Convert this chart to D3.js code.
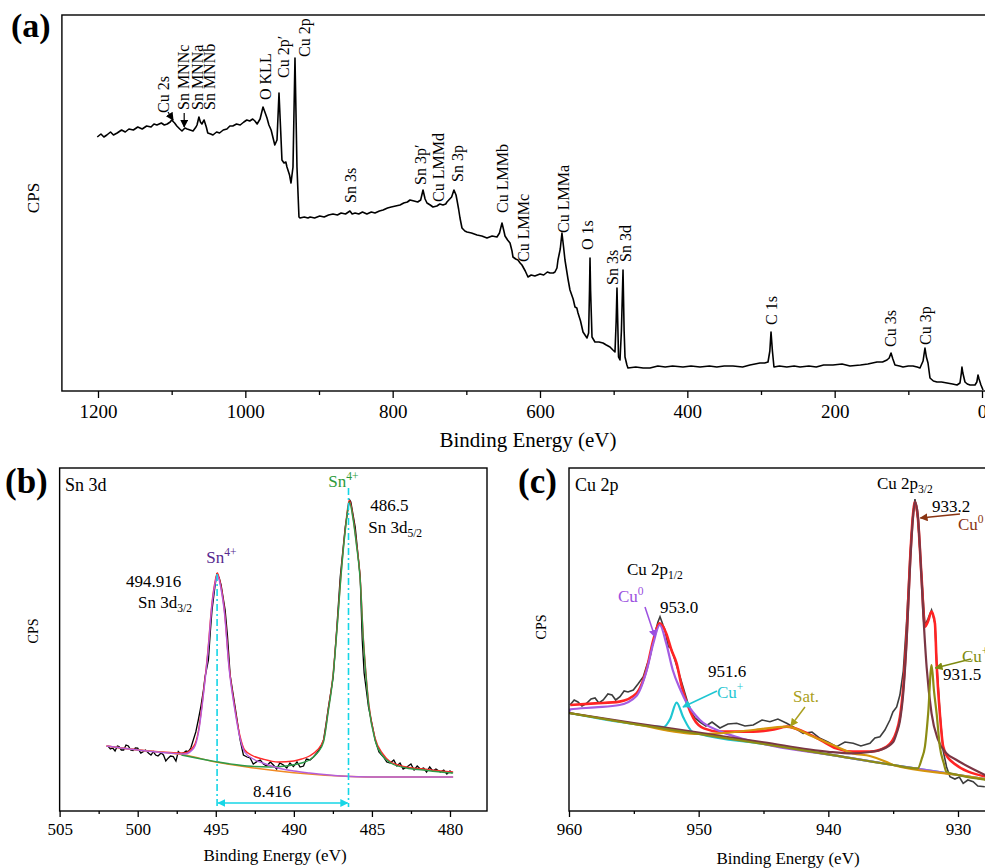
<!DOCTYPE html>
<html>
<head>
<meta charset="utf-8">
<script src="https://cdn.jsdelivr.net/npm/d3@7"></script>
<style>
body{margin:0;background:#fff;}
svg{display:block;font-family:"Liberation Serif","Times New Roman",serif;}
</style>
</head>
<body>
<svg id="fig" width="985" height="868"></svg>
<script>
// ---------- (a) survey spectrum: [binding energy eV, kCPS] ----------
var surveyData = [[1201,127],[1196,128.5],[1192,127],[1188,128],[1183,129.5],[1179,128],[1174,129],[1168,130.5],[1163,129.5],[1158,131],[1152,130.5],[1146,132],[1140,131],[1134,132.5],[1128,132],[1124,133.5],[1120,133],[1114,134],[1110,133],[1106,133.5],[1102,134.5],[1100,135.5],[1096,134],[1093,132.5],[1089,131],[1086,130],[1082,131.5],[1079,131],[1075,130.5],[1071,130],[1067,132],[1065.6,133],[1063,137],[1061,134.5],[1059,133.5],[1056,135.5],[1053,132],[1051,129],[1047,128.5],[1044,128],[1039,129.5],[1035,129],[1030,130.5],[1025,131],[1021,132.5],[1017,132.5],[1012,133.5],[1007,133],[1002,134.5],[998,135.5],[994,135],[990,136],[987,135],[984,133.5],[980,136],[976,142],[973,139],[970.6,136.5],[968,133],[965,130.5],[962,126],[960,123],[957,125.5],[954.3,149],[952,130],[950.3,115.5],[947.5,114],[945,114.5],[943.5,112],[940,108],[938,104],[935.3,112],[932.6,166.5],[929.9,112],[927.2,87],[925.8,86.5],[920,87],[915,86.5],[912,87],[906,86.5],[899,87.5],[893,87],[887,88],[881,88.5],[875,88],[870,89],[864,88.5],[858,90],[855,88.5],[851,89],[846,88.5],[841,89.5],[835,88.5],[829,89.5],[824,89],[818,90],[813,90.5],[807,91.5],[802,92],[796,92.5],[790,93],[785,94],[780,94.5],[776.5,95.5],[771,95],[766,94.5],[762,95.5],[758.8,100.5],[756,96],[753.4,94],[749,93],[745.3,92],[740,92.5],[736,93.5],[731.7,93],[728,93.5],[726.3,94.5],[720,97],[716.8,100.5],[714,98],[712.7,95.5],[710.5,91],[708.6,86.5],[705.9,81.5],[702,80],[699.1,79.5],[693,79],[685.5,78],[679,77.5],[672,76.5],[665,77.5],[658.4,77],[655,79],[651.6,84],[649,80],[647.5,77.5],[644,75.5],[640.7,74],[638,70],[636.7,67],[633,66],[629.9,65.5],[627,64],[624.5,63],[620,60],[616.3,57],[612,58],[607,57.5],[600,58.5],[595,58],[590,59.5],[586.4,59],[582,59],[579.7,59.5],[577,61.5],[575.6,65.5],[572.5,71],[570.2,79],[568,72],[566.1,65.5],[562,56],[559.3,50.5],[555,46],[552.5,42],[550,41.5],[548.4,39],[545,35],[541.6,29.5],[538,27.5],[536.2,26.5],[534,29],[532.8,50],[532.1,66.5],[531.3,50],[529.4,27],[525.4,24.5],[520,24.5],[514.5,24],[510,23],[505,22],[501,20.5],[498.2,19.5],[496.6,35],[495.5,51.5],[494.5,35],[493.4,17],[491.4,15.5],[489.5,30],[487.3,60.5],[485.8,30],[484.6,17],[482,13],[480.6,11.5],[470,12],[460,11.5],[450.7,11.5],[440,12.5],[430,12],[420,12.5],[405.9,12],[395,12.5],[382.8,12],[370,12.5],[360,12],[350,12.5],[338,12.5],[325,12],[315,13],[301.4,14],[295,14],[290.5,14.5],[288,20],[286.4,29.5],[284.5,20],[282.4,12],[275,12.5],[265,12],[255,12.5],[247,12],[235,12.5],[225,12],[215,13],[202.3,13],[190,13.5],[179.2,12.5],[165,13],[155,13.5],[142.5,14.5],[135,14.5],[129,15.5],[126,16.5],[123.5,19],[121,16],[118.1,13],[112,12.5],[107.2,12],[100,12.5],[93.7,12.5],[88,12],[84.2,11.5],[80,15],[77.4,21.5],[75.5,17],[73.3,14],[70.6,6.5],[66,5],[61.1,4.5],[55,4.5],[47.5,4],[40,3.5],[33.9,3],[29.9,4],[28,9],[27.2,12],[26,9],[23.1,4.5],[20,3.5],[16.3,3],[12,3],[9.5,3],[7,4.5],[5.4,8],[4,6],[1.4,3],[-1.4,0.5]];
// peak names, energy where the label stands, level of its foot
var surveyLabels = [["Cu 2s",1111.8,139],["Sn MNNc",1084.6,140.5],["Sn MNNa",1065.6,140.5],["Sn MNNb",1049.3,140.5],["O KLL",973.3,145.5],["Cu 2p\u2032",948.9,156.5],["Cu 2p",920.4,167],["Sn 3s",858,94],["Sn 3p\u2032",763,103],["Cu LMMd",738.5,94.5],["Sn 3p",712.7,104.5],["Cu LMMb",651.6,89],["Cu LMMc",623,64.5],["Cu LMMa",568.8,79],["O 1s",536.2,70.5],["Sn 3s",502.3,53],["Sn 3d",484.6,64.5],["C 1s",286.4,33],["Cu 3s",124.9,22],["Cu 3p",77.4,23]];
var surveyArrows = [[1105,139.5,1098,135.5],[1083,139,1083,132]];
var surveyMajor = [1200,1000,800,600,400,200,0];
var surveyMinor = [1100,900,700,500,300,100];

// ---------- (b) Sn 3d ----------
var sn3dData = [[501.9,33],[501.75,31.5],[501.6,32],[501.45,30.5],[501.3,33],[501.2,32.7],[501.05,31],[500.9,31],[500.75,33.5],[500.6,33],[500.45,31],[500.3,30.7],[500.15,32],[500,31.9],[499.8,29.5],[499.65,30.2],[499.5,31],[499.3,29.4],[499.15,28.5],[499,30.2],[498.85,28.5],[498.7,28],[498.5,29.5],[498.35,28.5],[498.2,25.5],[498.05,26.9],[497.9,28],[497.72,27.7],[497.55,25.5],[497.4,30.2],[497.25,29],[497.1,29.4],[496.9,30.5],[496.76,30.2],[496.6,32],[496.44,36],[496.28,40],[496.12,46],[495.95,53],[495.79,61],[495.69,67.5],[495.47,76],[495.35,90],[495.24,101],[495.04,113.5],[494.92,119.5],[494.85,118],[494.78,117],[494.66,113.5],[494.4,101],[494.25,88],[494.08,68.5],[493.76,52.5],[493.44,36],[493.3,31],[493.23,28.5],[493,27.5],[492.8,27],[492.6,24],[492.37,25.2],[492.15,26],[491.95,24],[491.75,23],[491.5,25],[491.31,23.5],[491.1,21.5],[490.9,24.5],[490.67,23.5],[490.45,22],[490.25,24.5],[490.03,22.7],[489.8,25],[489.6,22.5],[489.38,23],[489.2,26.5],[488.96,26],[488.75,27.5],[488.53,29.5],[488.3,32],[488.1,36],[487.94,44],[487.78,52.7],[487.48,67.5],[487.25,92],[487.03,117.5],[486.71,142.5],[486.5,153],[486.42,156],[486.35,155],[486.07,142.5],[485.75,117.5],[485.62,86],[485.5,69.5],[485.22,52.5],[484.79,36],[484.55,30],[484.26,27.5],[484.05,25],[483.83,24.5],[483.6,26],[483.4,23],[483.2,24.5],[483,21.5],[482.76,22.5],[482.5,24],[482.3,21],[482.1,23],[481.9,21.5],[481.69,22],[481.5,20],[481.3,22.5],[481.1,20.5],[480.9,21.5],[480.62,20],[480.4,21],[480.2,19],[480,20.5],[479.87,19.5]];
var sn3dBg = [[502,33],[500,31],[498,29.5],[497,28.5],[495,25],[493,22.5],[491,20.5],[489,19],[487,18],[485,17.5],[483,17.5],[479.8,17.5]];
var sn3d32Fit = [[502,33],[500,31],[498,29.5],[497,29],[496.4,32],[496.1,40],[495.8,58],[495.5,80],[495.25,103],[495.05,114],[494.9,118.5],[494.7,113],[494.45,100],[494.15,72],[493.8,52],[493.45,37],[493.15,30],[492.6,26.5],[492,24.5],[491,22],[490,20.5],[489,19.5],[487,18],[485,17.5],[483,17.5],[479.8,17.5]];
var sn3d52Fit = [[497.2,28.5],[495,25.2],[493,23],[491.5,22.5],[490.5,23],[489.5,24.5],[489,26],[488.5,29.5],[488.1,35],[487.8,50],[487.5,67],[487.2,95],[487,116],[486.7,141],[486.45,155],[486.2,146],[486,134],[485.75,116],[485.55,86],[485.4,70],[485.2,53],[484.8,36],[484.3,28],[483.8,24.5],[482.8,22],[481.7,21],[480.6,20],[479.8,19.5]];
var sn3dEnvelope = [[502,33],[497,29.5],[496.4,33],[496.1,41],[495.8,59],[495.5,81],[495.25,104],[495.05,115],[494.9,119.5],[494.7,114],[494.45,101],[494.15,73],[493.8,53],[493.45,38],[493.15,31],[492.6,28],[492,26.5],[491,25],[490,25.5],[489.5,26.5],[489,28],[488.5,31],[488.1,36],[487.8,51],[487.5,68],[487.2,96],[487,117],[486.7,142],[486.45,156],[486.2,147],[486,135],[485.75,117],[485.55,87],[485.4,71],[485.2,54],[484.8,37],[484.3,29],[483.8,25],[482.8,22.5],[481.7,21.5],[480.6,20.5],[479.8,20]];
var sn3dPeaks = [494.916, 486.5];
var sn3dMajor = [505,500,495,490,485,480];
var sn3dMinor = [502.5,497.5,492.5,487.5,482.5];

// ---------- (c) Cu 2p ----------
var cu2pData = [[959.92,53],[959.6,55.5],[959.31,54.5],[959,52.5],[958.64,53.85],[958.3,56],[957.99,56.5],[957.7,54],[957.36,55.5],[957,58.5],[956.68,58],[956.4,55.5],[956.07,57.15],[955.75,60],[955.45,59.5],[955.04,60.5],[954.68,63.5],[954.27,67.15],[953.99,73],[953.75,77.15],[953.37,88.85],[953.14,94.5],[952.98,97.15],[952.75,93],[952.6,90.5],[952.34,82.15],[952.14,81.5],[951.83,75.5],[951.44,67.15],[951.06,58.85],[950.67,50.5],[950.29,46.5],[949.9,44.5],[949.44,42.5],[948.97,44.5],[948.36,41.5],[947.74,43.5],[947.07,43.85],[946.43,42.5],[945.79,43],[945.12,45.5],[944.5,44.65],[943.89,46],[943.21,43.85],[942.58,41.5],[941.94,38.85],[941.26,39.5],[940.65,36.35],[940.03,34.5],[939.36,32.15],[938.72,34.5],[938.08,33.85],[937.49,32.5],[936.79,33.85],[936.41,36.5],[936.02,37.15],[935.64,40.5],[935.25,45.5],[935.02,49.5],[934.73,52],[934.48,58],[934.22,70],[933.96,95],[933.7,128],[933.5,147],[933.32,156],[933.1,146],[932.81,118],[932.55,93],[932.32,96],[932.04,100.5],[931.78,94],[931.65,75],[931.4,49.5],[931.14,30],[930.88,22],[930.62,17.15],[930.24,16],[929.9,17],[929.6,13.85],[929.24,15.5],[928.83,14.65],[928.47,12.5],[927.93,12.15]];
var cu2pEnvelope = [[959.9,53],[958,53.8],[956.1,54.7],[954.8,58.8],[954,71.3],[953.5,85.5],[953,93.8],[952.5,88.8],[952.1,80.5],[951.7,73.8],[951.3,62.2],[950.9,53.8],[950.4,46.3],[949.6,41.3],[948.4,39.7],[945.8,39.7],[944.2,40.8],[943.2,42.2],[941.9,39.7],[940.6,35.5],[939.4,31.3],[938.1,29.7],[936.8,29.7],[935.5,32.2],[934.73,40],[934.48,47],[934.22,62],[933.96,88],[933.7,125],[933.5,146],[933.32,154.5],[933.1,147],[932.81,117],[932.55,92.2],[932.3,95],[932.04,99.7],[931.78,93.8],[931.65,73.8],[931.4,48.8],[931.14,32.2],[930.62,25.5],[927.9,17.2]];
var cu2pBg = [[960,49],[955,43.5],[950,38.5],[945,33.5],[940,28.3],[935,23],[930,18],[927,15]];
var cu0p12Peak = [[959.9,50.8],[958,51.8],[956.1,53],[954.8,57.5],[954,70.5],[953.5,83.8],[953,93],[952.5,83.8],[952,70.5],[951.4,60.5],[950.9,53.8],[949.9,45.5],[948.4,40],[946.8,36.5],[945.3,34]];
var cuIp12Peak = [[953.3,42.3],[952.7,42],[952.2,46],[951.7,54.2],[951.2,47],[950.5,39.7],[950,38.7]];
var satPeak = [[950,38.5],[948.4,38.8],[945.8,40.5],[943.2,42.2],[941.2,37.2],[939.4,32.2],[938.1,28.8],[936.8,27.5],[935.5,24.5]];
var cu0p32Peak = [[955,44],[950,39.2],[945,34.3],[940,29.6],[938.1,28.8],[936.8,29.5],[936,30.5],[935,34.5],[934.73,39],[934.48,45],[934.22,59],[933.96,85],[933.7,122],[933.5,144],[933.32,154.7],[933.1,148],[932.94,132],[932.68,98.8],[932.42,72],[932.04,48.8],[931.53,35.5],[930.88,28.8],[930.11,25.5],[927.93,18]];
var cuIp32Peak = [[933.1,21.3],[932.8,26],[932.55,32.2],[932.3,48.8],[932.04,73],[931.85,60],[931.65,48.8],[931.4,32.2],[931.1,24],[930.9,19.7]];
var cu2pMajor = [960,950,940,930];
var cu2pMinor = [955,945,935];

// ---------------------------------------------------------
var svg = d3.select("#fig");
var serif = "'Liberation Serif','Times New Roman',serif";

var defs = svg.append("defs");
function arrowHead(id, color){
  defs.append("marker")
    .attr("id", id)
    .attr("viewBox", "0 0 10 10")
    .attr("refX", 9).attr("refY", 5)
    .attr("markerWidth", 8).attr("markerHeight", 8)
    .attr("markerUnits", "userSpaceOnUse")
    .attr("orient", "auto-start-reverse")
    .append("path")
    .attr("d", "M0,0 L10,5 L0,10 z")
    .attr("fill", color);
}
arrowHead("ahBlack", "#000");
arrowHead("ahCyan", "#16d6e6");
arrowHead("ahPurple", "#9b4fe0");
arrowHead("ahCyan2", "#1ec6d2");
arrowHead("ahBrown", "#8a3412");
arrowHead("ahOlive", "#7d8a10");
arrowHead("ahSat", "#a8a018");

function bottomAxis(scale, y, major, minor, fs, pad, majLen, minLen){
  var g = svg.append("g").attr("transform", "translate(0," + y + ")");
  g.call(d3.axisBottom(scale).tickValues(major).tickSize(majLen).tickPadding(pad).tickFormat(d3.format("d")));
  g.select(".domain").remove();
  g.attr("font-family", serif).attr("font-size", fs);
  g.selectAll("line").attr("stroke", "#000").attr("stroke-width", 1.3);
  g.selectAll("text").attr("fill", "#000");
  var g2 = svg.append("g").attr("transform", "translate(0," + y + ")");
  g2.call(d3.axisBottom(scale).tickValues(minor).tickSize(minLen).tickFormat(""));
  g2.select(".domain").remove();
  g2.selectAll("line").attr("stroke", "#000").attr("stroke-width", 1.3);
}

// text with sub / superscripts: parts = [[str, kind]]
function rich(g, x, y, parts, fs, color, anchor){
  var t = g.append("text").attr("x", x).attr("y", y)
    .attr("font-size", fs).attr("fill", color || "#000")
    .attr("text-anchor", anchor || "start");
  var shift = 0;
  parts.forEach(function(p){
    var s = t.append("tspan").text(p[0]);
    var target = p[1] == "sub" ? 4 : (p[1] == "sup" ? -7 : 0);
    if (target != shift) s.attr("dy", target - shift);
    if (p[1] != "n") s.attr("font-size", fs * 0.68);
    shift = target;
  });
  return t;
}

function frame(x0, y0, x1, y1){
  svg.append("rect").attr("x", x0).attr("y", y0)
    .attr("width", x1 - x0).attr("height", y1 - y0)
    .attr("fill", "none").attr("stroke", "#000").attr("stroke-width", 1.4);
}

// ================= panel (a) =================
var xA = d3.scaleLinear().domain([1200, 0]).range([98, 982]);
var yA = d3.scaleLinear().domain([0, 188]).range([391, 15]);
var lineA = d3.line().x(function(d){ return xA(d[0]); }).y(function(d){ return yA(d[1]); });

svg.append("path").datum(surveyData)
  .attr("d", lineA).attr("fill", "none")
  .attr("stroke", "#000").attr("stroke-width", 1.6).attr("stroke-linejoin", "round");

frame(xA(1249), 15, 1010, 391);
bottomAxis(xA, 391, surveyMajor, surveyMinor, 19, 7, 7, 4);

svg.selectAll(".slab").data(surveyLabels).enter().append("text")
  .attr("class", "slab")
  .attr("transform", function(d){ return "translate(" + xA(d[1]) + "," + yA(d[2]) + ") rotate(-90)"; })
  .attr("dy", "0.35em")
  .attr("font-size", 16)
  .text(function(d){ return d[0]; });

svg.selectAll(".sarr").data(surveyArrows).enter().append("line")
  .attr("x1", function(d){ return xA(d[0]); }).attr("y1", function(d){ return yA(d[1]); })
  .attr("x2", function(d){ return xA(d[2]); }).attr("y2", function(d){ return yA(d[3]); })
  .attr("stroke", "#000").attr("stroke-width", 1.2)
  .attr("marker-end", "url(#ahBlack)");

svg.append("text").attr("x", 528).attr("y", 447).attr("text-anchor", "middle")
  .attr("font-size", 21).text("Binding Energy (eV)");
svg.append("text").attr("transform", "translate(39,198) rotate(-90)")
  .attr("text-anchor", "middle").attr("font-size", 17).text("CPS");
svg.append("text").attr("x", 11).attr("y", 37).attr("font-size", 34)
  .attr("font-weight", "bold").text("(a)");

// ================= panel (b) =================
var xB = d3.scaleLinear().domain([500, 480]).range([137.7, 450]);
var yB = d3.scaleLinear().domain([0, 172]).range([812, 468]);
var lineB = d3.line().x(function(d){ return xB(d[0]); }).y(function(d){ return yB(d[1]); });
var smoothB = d3.line().curve(d3.curveMonotoneX).x(function(d){ return xB(d[0]); }).y(function(d){ return yB(d[1]); });

svg.append("path").datum(sn3dData).attr("d", lineB)
  .attr("fill", "none").attr("stroke", "#000").attr("stroke-width", 1.3);
svg.append("path").datum(sn3dEnvelope).attr("d", smoothB)
  .attr("fill", "none").attr("stroke", "#ff2a2a").attr("stroke-width", 1.4);
svg.append("path").datum(sn3dBg).attr("d", smoothB)
  .attr("fill", "none").attr("stroke", "#f08a24").attr("stroke-width", 1.4);
svg.append("path").datum(sn3d52Fit).attr("d", smoothB)
  .attr("fill", "none").attr("stroke", "#2f9a48").attr("stroke-width", 1.4);
svg.append("path").datum(sn3d32Fit).attr("d", smoothB)
  .attr("fill", "none").attr("stroke", "#b45ddb").attr("stroke-width", 1.4);

// dash-dot markers of the two peaks
var peakTops = [119, 162];
svg.selectAll(".vline").data(sn3dPeaks).enter().append("line")
  .attr("x1", function(d){ return xB(d); }).attr("x2", function(d){ return xB(d); })
  .attr("y1", function(d, i){ return yB(peakTops[i]); }).attr("y2", yB(2.5))
  .attr("stroke", "#16d6e6").attr("stroke-width", 1.6)
  .attr("stroke-dasharray", "7,3,2,3");
svg.append("line")
  .attr("x1", xB(sn3dPeaks[0]) + 1).attr("x2", xB(sn3dPeaks[1]) - 1)
  .attr("y1", yB(4.5)).attr("y2", yB(4.5))
  .attr("stroke", "#16d6e6").attr("stroke-width", 1.6)
  .attr("marker-start", "url(#ahCyan)").attr("marker-end", "url(#ahCyan)");
svg.append("text").attr("x", xB(491.39)).attr("y", yB(7.5)).attr("text-anchor", "middle")
  .attr("font-size", 17).text((sn3dPeaks[0] - sn3dPeaks[1]).toFixed(3));

frame(xB(505), 468, 487, 811);
bottomAxis(xB, 811, sn3dMajor, sn3dMinor, 17, 6, 6, 3);

var gB = svg.append("g");
rich(gB, xB(500.75), yB(112.5), [["494.916","n"]], 17);
rich(gB, xB(499.98), yB(102), [["Sn 3d","n"],["3/2","sub"]], 17);
rich(gB, xB(495.61), yB(124.5), [["Sn","n"],["4+","sup"]], 17, "#56288f");
rich(gB, xB(487.8), yB(162.5), [["Sn","n"],["4+","sup"]], 17, "#2c9a3c");
rich(gB, xB(485.11), yB(150.5), [["486.5","n"]], 17);
rich(gB, xB(485.24), yB(139.5), [["Sn 3d","n"],["5/2","sub"]], 17);
svg.append("text").attr("x", 65).attr("y", 491).attr("font-size", 18).text("Sn 3d");

svg.append("text").attr("x", 275).attr("y", 861).attr("text-anchor", "middle")
  .attr("font-size", 17).text("Binding Energy (eV)");
svg.append("text").attr("transform", "translate(38,631) rotate(-90)")
  .attr("text-anchor", "middle").attr("font-size", 14).text("CPS");
svg.append("text").attr("x", 5).attr("y", 493).attr("font-size", 35)
  .attr("font-weight", "bold").text("(b)");

// ================= panel (c) =================
var xC = d3.scaleLinear().domain([960, 930]).range([569, 958]);
var yC = d3.scaleLinear().domain([0, 171.5]).range([811, 468]);
var lineC = d3.line().x(function(d){ return xC(d[0]); }).y(function(d){ return yC(d[1]); });
var smoothC = d3.line().curve(d3.curveMonotoneX).x(function(d){ return xC(d[0]); }).y(function(d){ return yC(d[1]); });

defs.append("clipPath").attr("id", "clipC").append("rect")
  .attr("x", xC(960)).attr("y", 468).attr("width", 500).attr("height", 343);

// component = background outside its peak window + the peak points
function onBg(peak){
  var hi = peak[0][0], lo = peak[peak.length - 1][0];
  var pts = cu2pBg.filter(function(d){ return d[0] > hi || d[0] < lo; }).concat(peak);
  return pts.sort(function(a, b){ return b[0] - a[0]; });
}

var gC = svg.append("g").attr("clip-path", "url(#clipC)");
gC.append("path").datum(cu2pData).attr("d", lineC)
  .attr("fill", "none").attr("stroke", "#3d3d3d").attr("stroke-width", 1.6);
gC.append("path").datum(cu2pEnvelope).attr("d", smoothC)
  .attr("fill", "none").attr("stroke", "#ff2424").attr("stroke-width", 2.6);
gC.append("path").datum(onBg(cuIp12Peak)).attr("d", smoothC)
  .attr("fill", "none").attr("stroke", "#1ec6d2").attr("stroke-width", 2.2);
gC.append("path").datum(onBg(cu0p12Peak)).attr("d", smoothC)
  .attr("fill", "none").attr("stroke", "#a45ce2").attr("stroke-width", 2.2);
gC.append("path").datum(onBg(satPeak)).attr("d", smoothC)
  .attr("fill", "none").attr("stroke", "#d5950c").attr("stroke-width", 2.2);
gC.append("path").datum(onBg(cu0p32Peak)).attr("d", smoothC)
  .attr("fill", "none").attr("stroke", "#7a3644").attr("stroke-width", 2.2);
gC.append("path").datum(onBg(cuIp32Peak)).attr("d", smoothC)
  .attr("fill", "none").attr("stroke", "#8c8c14").attr("stroke-width", 2.2);

frame(xC(960), 468, 1010, 811);
bottomAxis(xC, 811, cu2pMajor, cu2pMinor, 17, 6, 6, 3);

function pointer(e1, v1, e2, v2, color, head){
  svg.append("line")
    .attr("x1", xC(e1)).attr("y1", yC(v1)).attr("x2", xC(e2)).attr("y2", yC(v2))
    .attr("stroke", color).attr("stroke-width", 1.5)
    .attr("marker-end", "url(#" + head + ")");
}
var gT = svg.append("g");
rich(gT, xC(955.53), yC(118), [["Cu 2p","n"],["1/2","sub"]], 17);
rich(gT, xC(956.22), yC(104.5), [["Cu","n"],["0","sup"]], 17, "#9b4fe0");
pointer(954.14, 102, 953.37, 87, "#9b4fe0", "ahPurple");
rich(gT, xC(952.98), yC(99), [["953.0","n"]], 17);
rich(gT, xC(949.28), yC(67), [["951.6","n"]], 17);
rich(gT, xC(948.59), yC(56.5), [["Cu","n"],["+","sup"]], 17, "#1ec6d2");
pointer(948.59, 60, 951.21, 52, "#1ec6d2", "ahCyan2");
rich(gT, xC(936.25), yC(161), [["Cu 2p","n"],["3/2","sub"]], 17);
rich(gT, xC(932.01), yC(149.5), [["933.2","n"]], 17);
rich(gT, xC(930.0), yC(140.5), [["Cu","n"],["0","sup"]], 17, "#8a3412");
pointer(929.85, 148.5, 932.9, 146.5, "#8a3412", "ahBrown");
rich(gT, xC(929.7), yC(74.5), [["Cu","n"],["+","sup"]], 17, "#7d8a10");
pointer(929.0, 76, 931.75, 71.5, "#7d8a10", "ahOlive");
rich(gT, xC(931.16), yC(65.5), [["931.5","n"]], 17);
rich(gT, xC(942.73), yC(54.5), [["Sat.","n"]], 17, "#aaa020");
pointer(941.8, 52, 942.9, 42.5, "#aaa020", "ahSat");
svg.append("text").attr("x", 575).attr("y", 491).attr("font-size", 18).text("Cu 2p");

svg.append("text").attr("x", 788).attr("y", 864).attr("text-anchor", "middle")
  .attr("font-size", 17).text("Binding Energy (eV)");
svg.append("text").attr("transform", "translate(546,627) rotate(-90)")
  .attr("text-anchor", "middle").attr("font-size", 14).text("CPS");
svg.append("text").attr("x", 518).attr("y", 493).attr("font-size", 35)
  .attr("font-weight", "bold").text("(c)");
</script>
</body>
</html>
